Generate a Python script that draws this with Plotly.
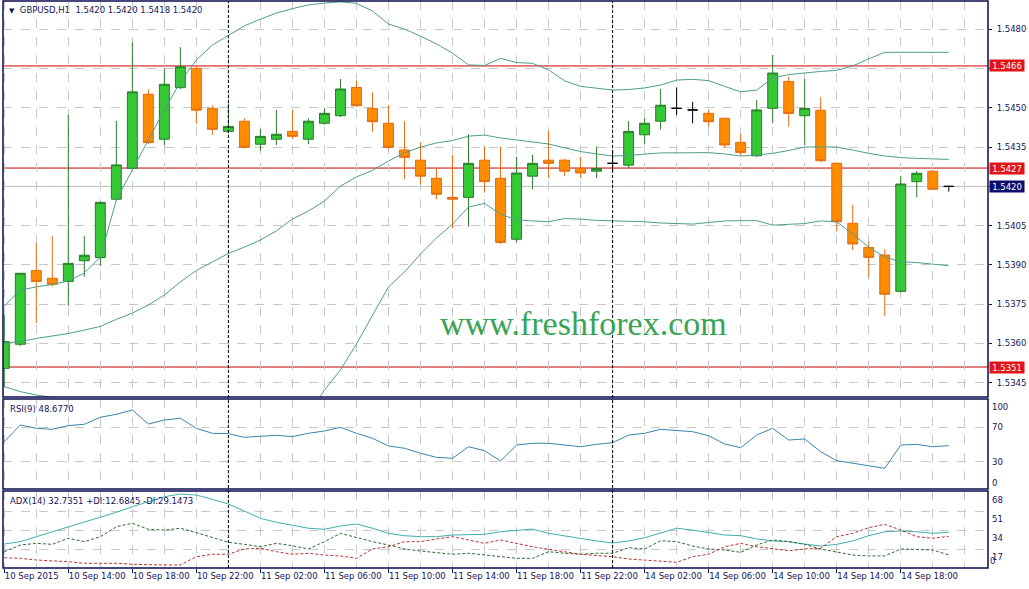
import plotly.graph_objects as go

# ---------------- data ----------------
bar_days = ["10 Sep"] * 14 + ["11 Sep"] * 24 + ["14 Sep"] * 22
bar_hours = list(range(10, 24)) + list(range(0, 24)) + list(range(0, 22))

open_ = [1.53505, 1.53597, 1.53879, 1.53849, 1.53837, 1.53916, 1.53928, 1.54151, 1.54269, 1.54552,
         1.54380, 1.54577, 1.54651, 1.54498, 1.54410, 1.54449, 1.54361, 1.54380, 1.54410, 1.54380,
         1.54441, 1.54470, 1.54578, 1.54498, 1.54441, 1.54339, 1.54300, 1.54231, 1.54158, 1.54158,
         1.54300, 1.54231, 1.53998, 1.54239, 1.54300, 1.54300, 1.54269, 1.54258, 1.54288, 1.54281,
         1.54397, 1.54449, 1.54498, 1.54492, 1.54479, 1.54460, 1.54368, 1.54317, 1.54498, 1.54601,
         1.54470, 1.54491, 1.54288, 1.54059, 1.53967, 1.53938, 1.53799, 1.54218, 1.54258, 1.54200]
high = [1.53709, 1.53870, 1.53983, 1.54010, 1.54473, 1.54010, 1.54142, 1.54450, 1.54750, 1.54571,
        1.54651, 1.54732, 1.54660, 1.54510, 1.54517, 1.54460, 1.54419, 1.54492, 1.54492, 1.54460,
        1.54499, 1.54610, 1.54603, 1.54559, 1.54510, 1.54449, 1.54368, 1.54269, 1.54320, 1.54399,
        1.54352, 1.54352, 1.54313, 1.54320, 1.54412, 1.54305, 1.54313, 1.54352, 1.54335, 1.54449,
        1.54461, 1.54572, 1.54578, 1.54523, 1.54492, 1.54463, 1.54400, 1.54530, 1.54702, 1.54619,
        1.54610, 1.54541, 1.54292, 1.54129, 1.53989, 1.53960, 1.54240, 1.54259, 1.54260, 1.54200]
low = [1.53434, 1.53590, 1.53677, 1.53817, 1.53744, 1.53855, 1.53896, 1.54145, 1.54262, 1.54362,
       1.54358, 1.54572, 1.54439, 1.54396, 1.54405, 1.54345, 1.54336, 1.54358, 1.54380, 1.54361,
       1.54436, 1.54465, 1.54503, 1.54409, 1.54342, 1.54228, 1.54208, 1.54151, 1.54040, 1.54046,
       1.54176, 1.53980, 1.53986, 1.54189, 1.54231, 1.54239, 1.54231, 1.54231, 1.54258, 1.54269,
       1.54361, 1.54417, 1.54473, 1.54441, 1.54428, 1.54348, 1.54317, 1.54312, 1.54441, 1.54428,
       1.54358, 1.54292, 1.54027, 1.53957, 1.53853, 1.53705, 1.53795, 1.54158, 1.54189, 1.54180]
close = [1.53607, 1.53868, 1.53837, 1.53826, 1.53906, 1.53937, 1.54139, 1.54282, 1.54561, 1.54367,
         1.54590, 1.54657, 1.54491, 1.54418, 1.54429, 1.54349, 1.54391, 1.54399, 1.54391, 1.54449,
         1.54479, 1.54572, 1.54508, 1.54447, 1.54349, 1.54311, 1.54239, 1.54170, 1.54151, 1.54288,
         1.54218, 1.53986, 1.54251, 1.54288, 1.54288, 1.54258, 1.54251, 1.54268, 1.54288, 1.54410,
         1.54441, 1.54510, 1.54498, 1.54492, 1.54447, 1.54358, 1.54329, 1.54492, 1.54633, 1.54478,
         1.54498, 1.54298, 1.54065, 1.53980, 1.53929, 1.53788, 1.54209, 1.54250, 1.54189, 1.54200]

bb_upper = [1.53743, 1.53804, 1.53816, 1.53825, 1.53839, 1.53869, 1.53930, 1.54148, 1.54263, 1.54377,
            1.54492, 1.54599, 1.54683, 1.54740, 1.54778, 1.54813, 1.54839, 1.54862, 1.54879, 1.54893,
            1.54900, 1.54905, 1.54899, 1.54870, 1.54820, 1.54801, 1.54774, 1.54744, 1.54709, 1.54664,
            1.54662, 1.54689, 1.54673, 1.54670, 1.54645, 1.54603, 1.54582, 1.54574, 1.54568, 1.54570,
            1.54576, 1.54587, 1.54606, 1.54609, 1.54604, 1.54582, 1.54561, 1.54568, 1.54614, 1.54627,
            1.54634, 1.54639, 1.54643, 1.54660, 1.54687, 1.54712, 1.54712, 1.54712, 1.54712, 1.54712]
bb_middle = [1.53602, 1.53607, 1.53619, 1.53629, 1.53638, 1.53651, 1.53665, 1.53692, 1.53716, 1.53747,
             1.53785, 1.53835, 1.53879, 1.53911, 1.53944, 1.53968, 1.53995, 1.54030, 1.54075, 1.54106,
             1.54144, 1.54201, 1.54236, 1.54261, 1.54297, 1.54328, 1.54350, 1.54366, 1.54375, 1.54392,
             1.54396, 1.54385, 1.54377, 1.54370, 1.54362, 1.54347, 1.54333, 1.54324, 1.54316, 1.54318,
             1.54324, 1.54328, 1.54328, 1.54328, 1.54329, 1.54324, 1.54316, 1.54320, 1.54326, 1.54337,
             1.54350, 1.54351, 1.54350, 1.54339, 1.54326, 1.54316, 1.54310, 1.54307, 1.54305, 1.54303]
bb_lower = [1.53435, 1.53416, 1.53403, 1.53395, 1.53384, 1.53365, 1.53346, 1.53231, 1.53174, 1.53117,
            1.53078, 1.53059, 1.53078, 1.53086, 1.53117, 1.53128, 1.53155, 1.53201, 1.53269, 1.53327,
            1.53422, 1.53499, 1.53598, 1.53709, 1.53816, 1.53873, 1.53942, 1.54003, 1.54056, 1.54121,
            1.54135, 1.54094, 1.54072, 1.54068, 1.54065, 1.54077, 1.54075, 1.54070, 1.54068, 1.54066,
            1.54065, 1.54060, 1.54058, 1.54056, 1.54062, 1.54068, 1.54069, 1.54069, 1.54052, 1.54054,
            1.54058, 1.54068, 1.54065, 1.54018, 1.53968, 1.53930, 1.53912, 1.53909, 1.53904, 1.53897]

rsi = [53.3, 72.7, 68.8, 67.7, 71.9, 73.5, 81.6, 85.1, 90.1, 73.8,
       78.5, 80.5, 68.8, 63.0, 62.6, 58.4, 59.5, 60.7, 59.1, 63.0,
       65.7, 70.0, 63.0, 57.2, 48.3, 45.6, 39.8, 35.1, 34.0, 47.4,
       42.8, 30.8, 49.4, 51.4, 51.4, 49.4, 47.4, 50.2, 52.1, 61.0,
       63.0, 67.7, 66.5, 64.9, 60.2, 50.6, 46.3, 61.0, 68.8, 55.2,
       56.4, 41.6, 31.2, 28.1, 25.3, 22.3, 49.4, 50.2, 47.4, 48.677]

adx = [22.3, 24.4, 28.8, 33.2, 37.1, 41.6, 46.0, 50.5, 55.4, 59.9,
       64.3, 66.7, 65.8, 62.0, 57.8, 51.6, 45.1, 41.6, 39.2, 36.3,
       35.4, 38.3, 40.1, 36.3, 31.8, 29.7, 28.8, 28.8, 30.3, 30.3,
       30.9, 33.2, 34.3, 35.6, 31.8, 29.4, 26.8, 25.0, 23.2, 25.0,
       27.9, 32.4, 36.3, 34.7, 32.4, 30.3, 29.7, 26.8, 25.0, 24.4,
       22.3, 20.5, 22.0, 25.0, 29.7, 33.2, 33.9, 33.2, 31.8, 32.7351]
plus_di = [15.5, 21.4, 22.9, 22.0, 27.4, 24.4, 28.8, 37.7, 40.7, 35.4,
           34.7, 36.3, 32.4, 28.3, 23.8, 22.0, 19.9, 22.9, 20.8, 17.9,
           24.4, 31.8, 27.9, 24.4, 21.4, 17.9, 16.1, 14.9, 13.2, 14.1,
           12.5, 11.0, 9.6, 9.6, 15.5, 14.1, 13.2, 14.1, 14.1, 19.0,
           17.9, 25.2, 24.4, 20.5, 17.9, 17.0, 14.9, 21.4, 25.9, 24.4,
           22.0, 17.9, 14.9, 12.5, 11.7, 11.7, 17.9, 17.6, 17.0, 12.6845]
minus_di = [10.1, 9.6, 8.1, 7.5, 6.6, 5.2, 5.2, 5.2, 4.3, 3.7,
            3.7, 3.7, 11.0, 13.2, 13.2, 17.9, 18.5, 15.5, 13.2, 14.1,
            12.5, 11.7, 9.6, 17.9, 19.9, 24.4, 24.4, 26.8, 28.8, 25.9,
            22.9, 25.9, 22.9, 19.9, 17.6, 15.5, 13.2, 12.1, 11.0, 9.0,
            8.1, 7.5, 6.1, 11.0, 13.2, 19.9, 22.9, 19.9, 17.9, 16.4,
            17.9, 18.5, 28.8, 31.8, 36.8, 39.8, 34.7, 28.8, 27.4, 29.1473]

level_lines = [1.5466, 1.5427, 1.5351]
bid_price = 1.5420
price_ticks = [1.5345, 1.5360, 1.5375, 1.5390, 1.5405, 1.5420, 1.5435, 1.5450, 1.5465, 1.5480]
rsi_ticks = [100, 70, 30, 0]
rsi_grid = [70, 30]
adx_ticks = [68, 51, 34, 17, 0]
adx_grid = [51, 34, 17]

# ---------------- styling ----------------
FONT = "DejaVu Sans"
NAVY = "#14145a"
GRID = "#c8c8c8"
BULL_FILL, BULL_LINE = "#36c836", "#2a7d2a"
BEAR_FILL, BEAR_LINE = "#ff8c00", "#e06e14"
BB_COLOR = "#4f9d8e"

n = len(close)
xs = list(range(n))

Y_MAIN = [1.533955, 1.549081]
Y_RSI = [-1.74, 102.9]
Y_ADX = [1.0, 69.4]

fig = go.Figure()

# Bollinger bands
for band in (bb_upper, bb_middle, bb_lower):
    fig.add_trace(go.Scatter(x=xs, y=band, mode="lines", line=dict(color=BB_COLOR, width=1),
                             hoverinfo="skip", showlegend=False, xaxis="x", yaxis="y"))

# candles (regular and doji)
reg = [i for i in xs if open_[i] != close[i]]
doji = [i for i in xs if open_[i] == close[i]]
fig.add_trace(go.Candlestick(
    x=reg, open=[open_[i] for i in reg], high=[high[i] for i in reg],
    low=[low[i] for i in reg], close=[close[i] for i in reg],
    increasing=dict(fillcolor=BULL_FILL, line=dict(color=BULL_LINE, width=1)),
    decreasing=dict(fillcolor=BEAR_FILL, line=dict(color=BEAR_LINE, width=1)),
    whiskerwidth=0, showlegend=False, xaxis="x", yaxis="y"))
fig.add_trace(go.Candlestick(
    x=doji, open=[open_[i] for i in doji], high=[high[i] for i in doji],
    low=[low[i] for i in doji], close=[close[i] for i in doji],
    increasing=dict(fillcolor="#000000", line=dict(color="#000000", width=1)),
    decreasing=dict(fillcolor="#000000", line=dict(color="#000000", width=1)),
    whiskerwidth=0, showlegend=False, xaxis="x", yaxis="y"))

# RSI
fig.add_trace(go.Scatter(x=xs, y=rsi, mode="lines", line=dict(color="#3a84ad", width=1),
                         showlegend=False, xaxis="x", yaxis="y2"))
# ADX
fig.add_trace(go.Scatter(x=xs, y=adx, mode="lines", line=dict(color="#41aeae", width=1),
                         showlegend=False, xaxis="x", yaxis="y3"))
fig.add_trace(go.Scatter(x=xs, y=plus_di, mode="lines",
                         line=dict(color="#2f6a2f", width=1, dash="3px,2px"),
                         showlegend=False, xaxis="x", yaxis="y3"))
fig.add_trace(go.Scatter(x=xs, y=minus_di, mode="lines",
                         line=dict(color="#b83232", width=1, dash="3px,2px"),
                         showlegend=False, xaxis="x", yaxis="y3"))

# x ticks
tick_idx = list(range(0, n, 4))
tick_txt = ["10 Sep 2015" if i == 0 else f"{bar_days[i]} {bar_hours[i]:02d}:00" for i in tick_idx]

# price tick labels hidden where a coloured price box sits on top of them
boxed = level_lines + [bid_price]
price_txt = ["" if any(abs(v - b) < 0.00025 for b in boxed) else f"{v:.4f}" for v in price_ticks]

axis_font = dict(family=FONT, size=8.5, color=NAVY)

fig.update_layout(
    width=1029, height=589,
    margin=dict(l=3, r=41, t=1, b=21),
    paper_bgcolor="white", plot_bgcolor="white",
    boxgap=0.38, boxgroupgap=0,
    showlegend=False,
    xaxis=dict(range=[-0.08, 61.45], anchor="y3", tickmode="array", tickvals=tick_idx,
               ticktext=tick_txt, ticks="outside", ticklen=4, tickcolor=NAVY, tickangle=0,
               ticklabelposition="outside right", tickfont=axis_font,
               showgrid=True, gridcolor=GRID, griddash="dash", gridwidth=1,
               minor=dict(dtick=2, tick0=0, showgrid=True, gridcolor=GRID, griddash="dash", ticks=""),
               showline=False, zeroline=False, rangeslider=dict(visible=False), fixedrange=True),
    yaxis=dict(domain=[0.3016, 1], range=Y_MAIN, anchor="x", side="right",
               tickmode="array", tickvals=price_ticks, ticktext=price_txt,
               ticks="outside", ticklen=3, tickcolor=NAVY, tickfont=axis_font,
               ticklabelstandoff=3,
               showgrid=True, gridcolor=GRID, griddash="dash", zeroline=False),
    yaxis2=dict(domain=[0.1393, 0.2981], range=Y_RSI, anchor="x", side="right",
                tickmode="array", tickvals=rsi_grid, showticklabels=False, ticks="",
                showgrid=True, gridcolor=GRID, griddash="dash", zeroline=False),
    yaxis3=dict(domain=[0, 0.1358], range=Y_ADX, anchor="x", side="right",
                tickmode="array", tickvals=adx_grid, showticklabels=False, ticks="",
                showgrid=True, gridcolor=GRID, griddash="dash", zeroline=False),
)

shapes = []
# panel borders
for yr in ("y domain", "y2 domain", "y3 domain"):
    shapes.append(dict(type="rect", xref="paper", yref=yr, x0=0, x1=1, y0=0, y1=1,
                       line=dict(color="#0a0a50", width=1.5), fillcolor="rgba(0,0,0,0)", layer="above"))
# horizontal levels
for lv in level_lines:
    shapes.append(dict(type="line", xref="paper", yref="y", x0=0, x1=1, y0=lv, y1=lv,
                       line=dict(color="#cc0000", width=1), layer="below"))
shapes.append(dict(type="line", xref="paper", yref="y", x0=0, x1=1, y0=bid_price, y1=bid_price,
                   line=dict(color="#b8b8b8", width=1), layer="below"))
# day separators
for i in xs:
    if bar_hours[i] == 0:
        shapes.append(dict(type="line", xref="x", yref="paper", x0=i, x1=i, y0=0, y1=1,
                           line=dict(color="black", width=1, dash="3px,2px"), layer="above"))
fig.update_layout(shapes=shapes)

ann = []
# price label boxes
for lv in level_lines:
    ann.append(dict(xref="paper", yref="y", x=1.0188, y=lv, text=f"{lv:.4f}", showarrow=False,
                    font=dict(family=FONT, size=8.5, color="white"), bgcolor="#e21414",
                    width=34, height=11, xanchor="center", yanchor="middle", borderpad=0))
ann.append(dict(xref="paper", yref="y", x=1.0188, y=bid_price, text=f"{bid_price:.4f}", showarrow=False,
                font=dict(family=FONT, size=8.5, color="white"), bgcolor="#0c0c6e",
                width=34, height=11, xanchor="center", yanchor="middle", borderpad=0))
# RSI axis labels
for v in rsi_ticks:
    ann.append(dict(xref="paper", yref="y2", x=1.0025, y=min(max(v, 5), 94), text=str(v),
                    showarrow=False, font=axis_font, xanchor="left", yanchor="middle"))
# ADX axis labels
for v in adx_ticks:
    if v >= Y_ADX[0]:
        ann.append(dict(xref="paper", yref="y3", x=1.0025, y=v, text=str(v), showarrow=False,
                        font=axis_font, xanchor="left", yanchor="top"))
    else:
        ann.append(dict(xref="paper", yref="y3", x=0.9995, y=Y_ADX[0], text=str(v), showarrow=False,
                        font=axis_font, xanchor="left", yanchor="bottom"))
# titles
ann.append(dict(xref="paper", yref="y domain", x=0.004, y=0.9785, xanchor="left", yanchor="middle",
                showarrow=False,
                text="<span style='font-size:7px'>\u25BC</span>&nbsp; GBPUSD,H1&nbsp;&nbsp;"
                     f"{open_[-1]:.4f} {high[-1]:.4f} {low[-1]:.4f} {close[-1]:.4f}",
                font=dict(family=FONT, size=8.5, color=NAVY)))
ann.append(dict(xref="paper", yref="y2 domain", x=0.005, y=0.889, xanchor="left", yanchor="middle",
                showarrow=False, text=f"RSI(9) {rsi[-1]:.4f}", font=dict(family=FONT, size=8.5, color=NAVY)))
ann.append(dict(xref="paper", yref="y3 domain", x=0.005, y=0.87, xanchor="left", yanchor="middle",
                showarrow=False,
                text=f"ADX(14) {adx[-1]:.4f} +DI:{plus_di[-1]:.4f} -DI:{minus_di[-1]:.4f}",
                font=dict(family=FONT, size=8.5, color=NAVY)))
# watermark
ann.append(dict(xref="paper", yref="y domain", x=0.5896, y=0.1856, xanchor="center", yanchor="middle",
                showarrow=False, text="www.freshforex.com",
                font=dict(family="Liberation Serif", size=34, color="#38a456")))
fig.update_layout(annotations=ann)

fig.write_html("out.html", config={"displayModeBar": False},
               post_script="document.body.style.margin='0px';document.body.style.overflow='hidden';")
